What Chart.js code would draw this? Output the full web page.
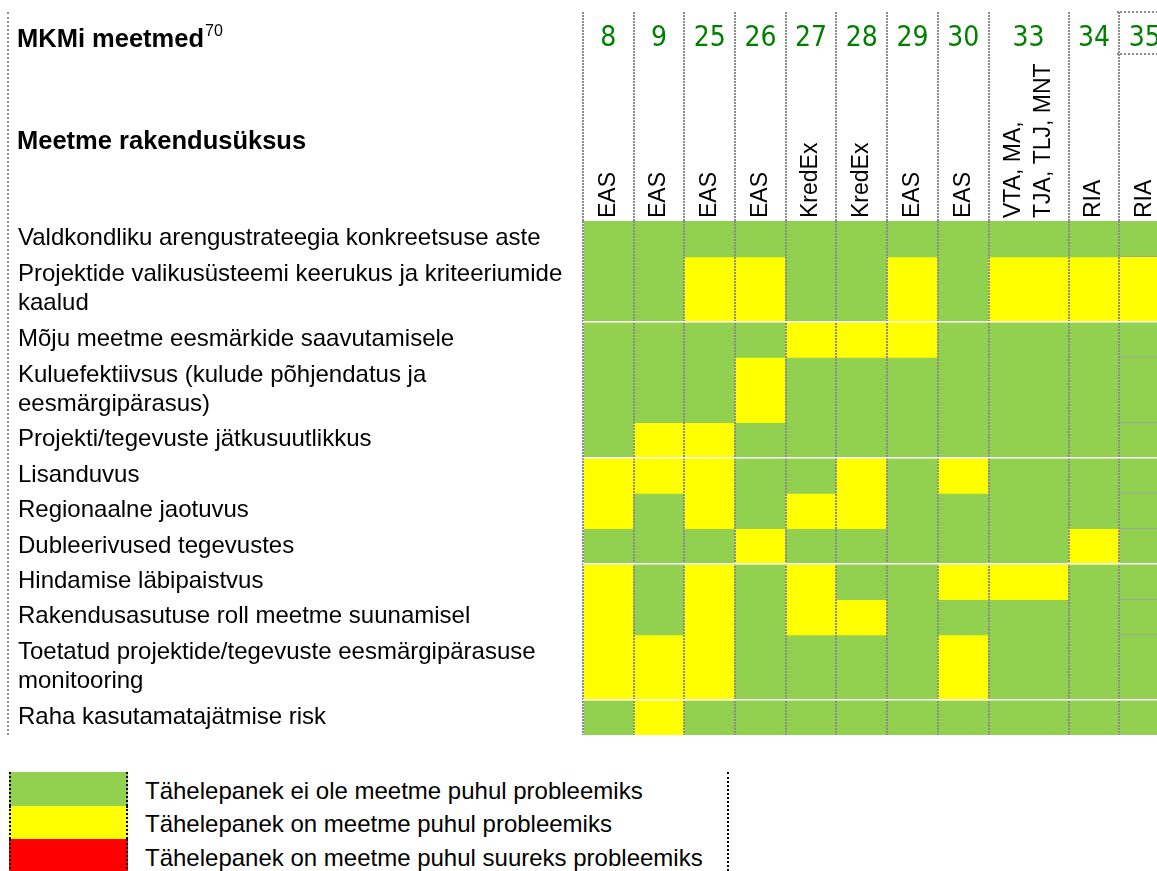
<!DOCTYPE html>
<html>
<head>
<meta charset="utf-8">
<script src="https://cdn.jsdelivr.net/npm/chart.js@4.4.1/dist/chart.umd.min.js"></script>
<style>
  html, body { margin: 0; padding: 0; background: #fff; width: 1157px; height: 871px; overflow: hidden; }
  body { position: relative; font-family: "Liberation Sans", Arial, sans-serif; color: #000; }
  #chart { position: absolute; left: 0; top: 0; width: 1170px; height: 740px; }
  .hdr { position: absolute; left: 17px; font-weight: bold; font-size: 25.5px; line-height: 26px; white-space: nowrap; }
  .hdr sup { font-weight: normal; font-size: 16px; vertical-align: baseline; position: relative; top: -11px; margin-left: 1px; }
  .edge { position: absolute; left: 7px; top: 12px; height: 723px; border-left: 2px dotted #8c8c8c; }
  .box35 { position: absolute; left: 1117px; top: 11px; width: 60px; height: 40px;
           border-top: 2px dotted #8c8c8c; border-bottom: 2px dotted #8c8c8c; }
  #legend { position: absolute; left: 9px; top: 772px; }
  #legend .row { display: flex; align-items: center; height: 33.5px; }
  #legend .sw { width: 115px; height: 100%; border-left: 2px dotted #000; border-right: 2px dotted #000; }
  #legend .txt { margin-left: 17px; font-size: 24px; white-space: nowrap; position: relative; top: 2px; }
  .vline { position: absolute; left: 727px; top: 772px; height: 99px; border-left: 2px dotted #000; }
</style>
</head>
<body>
<canvas id="chart" width="1170" height="740"></canvas>
<div class="edge"></div>
<div class="box35"></div>
<div class="hdr" style="top:25px">MKMi meetmed<sup>70</sup></div>
<div class="hdr" style="top:127px">Meetme rakendusüksus</div>
<div id="legend"></div>
<div class="vline"></div>
<script>
const MEASURES = ["8", "9", "25", "26", "27", "28", "29", "30", "33", "34", "35"];
const IMPLEMENTERS = ["EAS", "EAS", "EAS", "EAS", "KredEx", "KredEx", "EAS", "EAS",
  ["VTA, MA,", "TJA, TLJ, MNT"], "RIA", "RIA"];
const CRITERIA = [
  "Valdkondliku arengustrateegia konkreetsuse aste",
  ["Projektide valikusüsteemi keerukus ja kriteeriumide", "kaalud"],
  "Mõju meetme eesmärkide saavutamisele",
  ["Kuluefektiivsus (kulude põhjendatus ja", "eesmärgipärasus)"],
  "Projekti/tegevuste jätkusuutlikkus",
  "Lisanduvus",
  "Regionaalne jaotuvus",
  "Dubleerivused tegevustes",
  "Hindamise läbipaistvus",
  "Rakendusasutuse roll meetme suunamisel",
  ["Toetatud projektide/tegevuste eesmärgipärasuse", "monitooring"],
  "Raha kasutamatajätmise risk",
];
// 1 = not a problem, 2 = a problem, 3 = a big problem; one row per criterion, one column per measure
const STATUS = [
  [1, 1, 1, 1, 1, 1, 1, 1, 1, 1, 1],
  [1, 1, 2, 2, 1, 1, 2, 1, 2, 2, 2],
  [1, 1, 1, 1, 2, 2, 2, 1, 1, 1, 1],
  [1, 1, 1, 2, 1, 1, 1, 1, 1, 1, 1],
  [1, 2, 2, 1, 1, 1, 1, 1, 1, 1, 1],
  [2, 2, 2, 1, 1, 2, 1, 2, 1, 1, 1],
  [2, 1, 2, 1, 2, 2, 1, 1, 1, 1, 1],
  [1, 1, 1, 2, 1, 1, 1, 1, 1, 2, 1],
  [2, 1, 2, 1, 2, 1, 1, 2, 2, 1, 1],
  [2, 1, 2, 1, 2, 2, 1, 1, 1, 1, 1],
  [2, 2, 2, 1, 1, 1, 1, 2, 1, 1, 1],
  [1, 2, 1, 1, 1, 1, 1, 1, 1, 1, 1],
];
const LEGEND = [
  "Tähelepanek ei ole meetme puhul probleemiks",
  "Tähelepanek on meetme puhul probleemiks",
  "Tähelepanek on meetme puhul suureks probleemiks",
];
const STATUS_COLORS = ["#92d050", "#ffff00", "#ff0000"];

const FONT = "'Liberation Sans', Arial, sans-serif";
const NUM_FONT = "'Liberation Sans Narrow', 'DejaVu Sans Condensed', 'Liberation Sans', sans-serif";

// cell sizes follow the number of text lines in the header / row label
const nLines = (l) => (Array.isArray(l) ? l.length : 1);
const colW = IMPLEMENTERS.map((l) => (nLines(l) > 1 ? 1.58 : 1));
const rowH = CRITERIA.map((l) => (nLines(l) > 1 ? 1.84 : 1));
const edges = (arr) => arr.reduce((acc, w) => { acc.push(acc[acc.length - 1] + w); return acc; }, [0]);
const xEdges = edges(colW);
const yEdges = edges(rowH);
const xMid = colW.map((w, i) => xEdges[i] + w / 2);
const yMid = rowH.map((h, i) => yEdges[i] + h / 2);
const xMax = xEdges[xEdges.length - 1];
const yMax = yEdges[yEdges.length - 1];

// rotated top labels are drawn off-centre by chart.js; one labelOffset plus a
// per-label line height puts both the 1-line and the 2-line labels on the column centre
const ROT_SIZE = 23, ROT_LH = 1.3;
const ROT_OFFSET = 1.5 * ROT_SIZE * ROT_LH;

const datasets = CRITERIA.map((label, r) => ({
  label: [].concat(label).join(" "),
  data: MEASURES.map((m, c) => ({ x: [xEdges[c], xEdges[c + 1]], y: yMid[r] })),
  backgroundColor: STATUS[r].map((s) => STATUS_COLORS[s - 1]),
  borderColor: "#a0a0a0",
  borderWidth: MEASURES.map((m, c) => (c === MEASURES.length - 1 ? { top: 1, bottom: 1 } : 0)),
  borderSkipped: false,
  grouped: false,
  barThickness: 30,
  xAxisID: "xg",
  yAxisID: "y",
}));

const noPad = (s) => { s.paddingTop = 0; s.paddingBottom = 0; s.paddingLeft = 0; s.paddingRight = 0; };
const noGrid = { display: false, drawTicks: false, offset: false };
const chart = new Chart(document.getElementById("chart"), {
  type: "bar",
  data: { labels: MEASURES, datasets },
  options: {
    indexAxis: "y",
    responsive: false,
    animation: false,
    events: [],
    layout: { padding: { top: 18, left: 18, right: 0, bottom: 5 } },
    plugins: { legend: { display: false }, tooltip: { enabled: false } },
    scales: {
      // column dividers, running up through the header
      xg: {
        type: "linear", min: 0, max: xMax, position: "top", weight: 0, offset: false,
        afterBuildTicks: (s) => { s.ticks = xEdges.map((v) => ({ value: v })); },
        afterFit: (s) => { s.height = 0; noPad(s); },
        ticks: { display: false },
        grid: { color: "#8c8c8c", lineWidth: 2, tickLength: 209, tickBorderDash: [2, 1], z: 1, offset: false },
        border: { display: false, dash: [2, 1] },
      },
      // implementing units, rotated
      xi: {
        type: "linear", min: 0, max: xMax, position: "top", weight: 1, offset: false,
        afterBuildTicks: (s) => { s.ticks = xMid.map((v) => ({ value: v })); },
        afterFit: (s) => { s.height = 158; noPad(s); },
        grid: noGrid, border: { display: false },
        ticks: {
          autoSkip: false, minRotation: 90, maxRotation: 90, padding: 3, color: "#000",
          labelOffset: ROT_OFFSET,
          font: (ctx) => ({
            family: FONT, size: ROT_SIZE,
            lineHeight: nLines(IMPLEMENTERS[ctx.index]) > 1 ? ROT_LH : 1.5 * ROT_LH,
          }),
          callback: (v, i) => IMPLEMENTERS[i],
        },
      },
      // measure numbers
      xn: {
        type: "linear", min: 0, max: xMax, position: "top", weight: 2, offset: false,
        afterBuildTicks: (s) => { s.ticks = xMid.map((v) => ({ value: v })); },
        afterFit: (s) => { s.height = 45; noPad(s); },
        grid: noGrid, border: { display: false },
        ticks: {
          autoSkip: false, maxRotation: 0, padding: 7, color: "#008000",
          font: { family: NUM_FONT, size: 28 },
          callback: (v, i) => MEASURES[i],
        },
      },
      y: {
        type: "linear", reverse: true, min: 0, max: yMax, position: "left", weight: 1, offset: false,
        afterBuildTicks: (s) => { s.ticks = yMid.map((v) => ({ value: v })); },
        afterFit: (s) => { s.width = 565; noPad(s); },
        grid: noGrid, border: { display: false },
        ticks: {
          autoSkip: false, crossAlign: "far", padding: 0, color: "#000",
          font: { family: FONT, size: 24, lineHeight: 1.2 },
          callback: (v, i) => CRITERIA[i],
        },
      },
      // white separators after every third row
      yg: {
        type: "linear", reverse: true, min: 0, max: yMax, position: "left", weight: 0, offset: false,
        afterBuildTicks: (s) => {
          s.ticks = yEdges.filter((v, i) => i > 0 && i < yEdges.length - 1 && i % 3 === 2).map((v) => ({ value: v }));
        },
        afterFit: (s) => { s.width = 0; noPad(s); },
        ticks: { display: false },
        grid: { color: "#ffffff", lineWidth: 1.5, drawTicks: false, z: 1, offset: false },
        border: { display: false },
      },
    },
  },
});

// second pass: each row's bar thickness spans its own band on the y scale
const ys = chart.scales.y;
chart.data.datasets.forEach((ds, r) => {
  ds.barThickness = Math.abs(ys.getPixelForValue(yEdges[r + 1]) - ys.getPixelForValue(yEdges[r])) + 1;
});
chart.update();

document.getElementById("legend").innerHTML = LEGEND.map((t, i) =>
  `<div class="row"><div class="sw" style="background:${STATUS_COLORS[i]}"></div><div class="txt">${t}</div></div>`
).join("");
</script>
</body>
</html>
